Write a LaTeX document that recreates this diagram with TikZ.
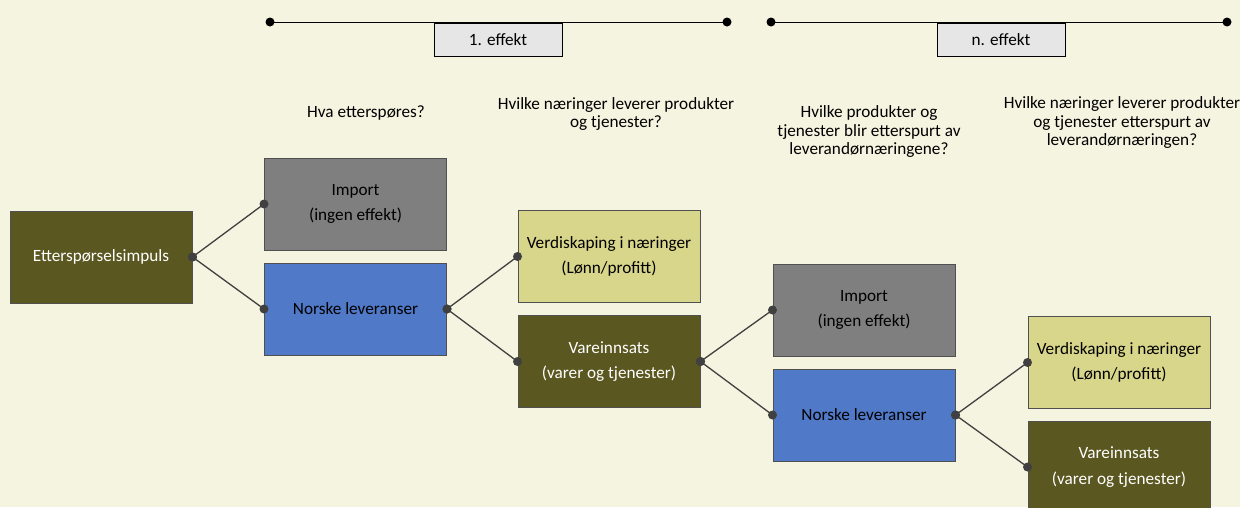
\documentclass[tikz,border=0pt]{standalone}
\usepackage{fontspec}
\setmainfont{Carlito}
\definecolor{bg}{HTML}{F5F4E0}
\definecolor{olivebox}{HTML}{5A5720}
\definecolor{greybox}{HTML}{7F7F7F}
\definecolor{bluebox}{HTML}{5079C8}
\definecolor{yellowbox}{HTML}{D8D68A}
\definecolor{labelbox}{HTML}{E6E6E6}
\definecolor{boxline}{HTML}{505050}
\definecolor{linkgrey}{HTML}{404040}

\begin{document}
\begin{tikzpicture}[x=1pt, y=-1pt, font=\fontsize{17.2}{18.5}\selectfont,
    box/.style={ draw=boxline, line width=1pt, minimum width=182pt,
      minimum height=92pt, align=center, inner sep=0pt,
      font=\fontsize{17.2}{25.5}\selectfont },
    olive/.style={ box, fill=olivebox, text=white },
    grey/.style={ box, fill=greybox },
    blue/.style={ box, fill=bluebox },
    yellow/.style={ box, fill=yellowbox },
    effect/.style={ draw=black, line width=1pt, fill=labelbox,
      minimum width=128pt, minimum height=33pt, inner sep=0pt },
    question/.style={ align=center, inner sep=0pt },
    link/.style={ draw=linkgrey, line width=1.3pt },
    knob/.style={ fill=linkgrey } ]
  \useasboundingbox[fill=bg] (0,0) rectangle (1240,507);
  \clip (0,0) rectangle (1240,507);

  % time line with effects
  \foreach \a/\b/\m/\t in {270/727/498/1., 771/1227/1001/n.} {
    \coordinate (l\m) at (\a,22);
    \coordinate (r\m) at (\b,22);
    \draw[line width=1pt] (l\m) -- (r\m);
    \fill (l\m) circle (4.5);
    \fill (r\m) circle (4.5);
    \node[effect] (e\m) at (\m,40) {\t{} effekt};
  }

  % questions
  \node[question] (q1) at (366,113) {Hva etterspøres?};
  \node[question] (q2) at (616,114) {Hvilke næringer leverer produkter\\og tjenester?};
  \node[question] (q3) at (869,132) {Hvilke produkter og\\tjenester blir etterspurt av\\leverandørnæringene?};
  \node[question] (q4) at (1122,123) {Hvilke næringer leverer produkter\\og tjenester etterspurt av\\leverandørnæringen?};

  % boxes
  \node[olive] (imp) at (101,257) {Etterspørselsimpuls};
  \node[grey] (import1) at (355.5,204) {Import\\(ingen effekt)};
  \node[blue] (norske1) at (355.5,309) {Norske leveranser};
  \node[yellow] (verdi1) at (609,256.5) {Verdiskaping i næringer\\(Lønn/profitt)};
  \node[olive] (vare1) at (609,361.5) {Vareinnsats\\(varer og tjenester)};
  \node[grey] (import2) at (864,310) {Import\\(ingen effekt)};
  \node[blue] (norske2) at (864,415) {Norske leveranser};
  \node[yellow] (verdi2) at (1119,362.5) {Verdiskaping i næringer\\(Lønn/profitt)};
  \node[olive] (vare2) at (1119,467) {Vareinnsats\\(varer og tjenester)};

  % connectors
  \foreach \s/\t in {imp/import1, imp/norske1, norske1/verdi1, norske1/vare1,
      vare1/import2, vare1/norske2, norske2/verdi2, norske2/vare2} {
    \draw[link] (\s.east) -- (\t.west);
    \fill[knob] (\s.east) circle (4.5);
    \fill[knob] (\t.west) circle (4.5);
  }
\end{tikzpicture}
\end{document}
